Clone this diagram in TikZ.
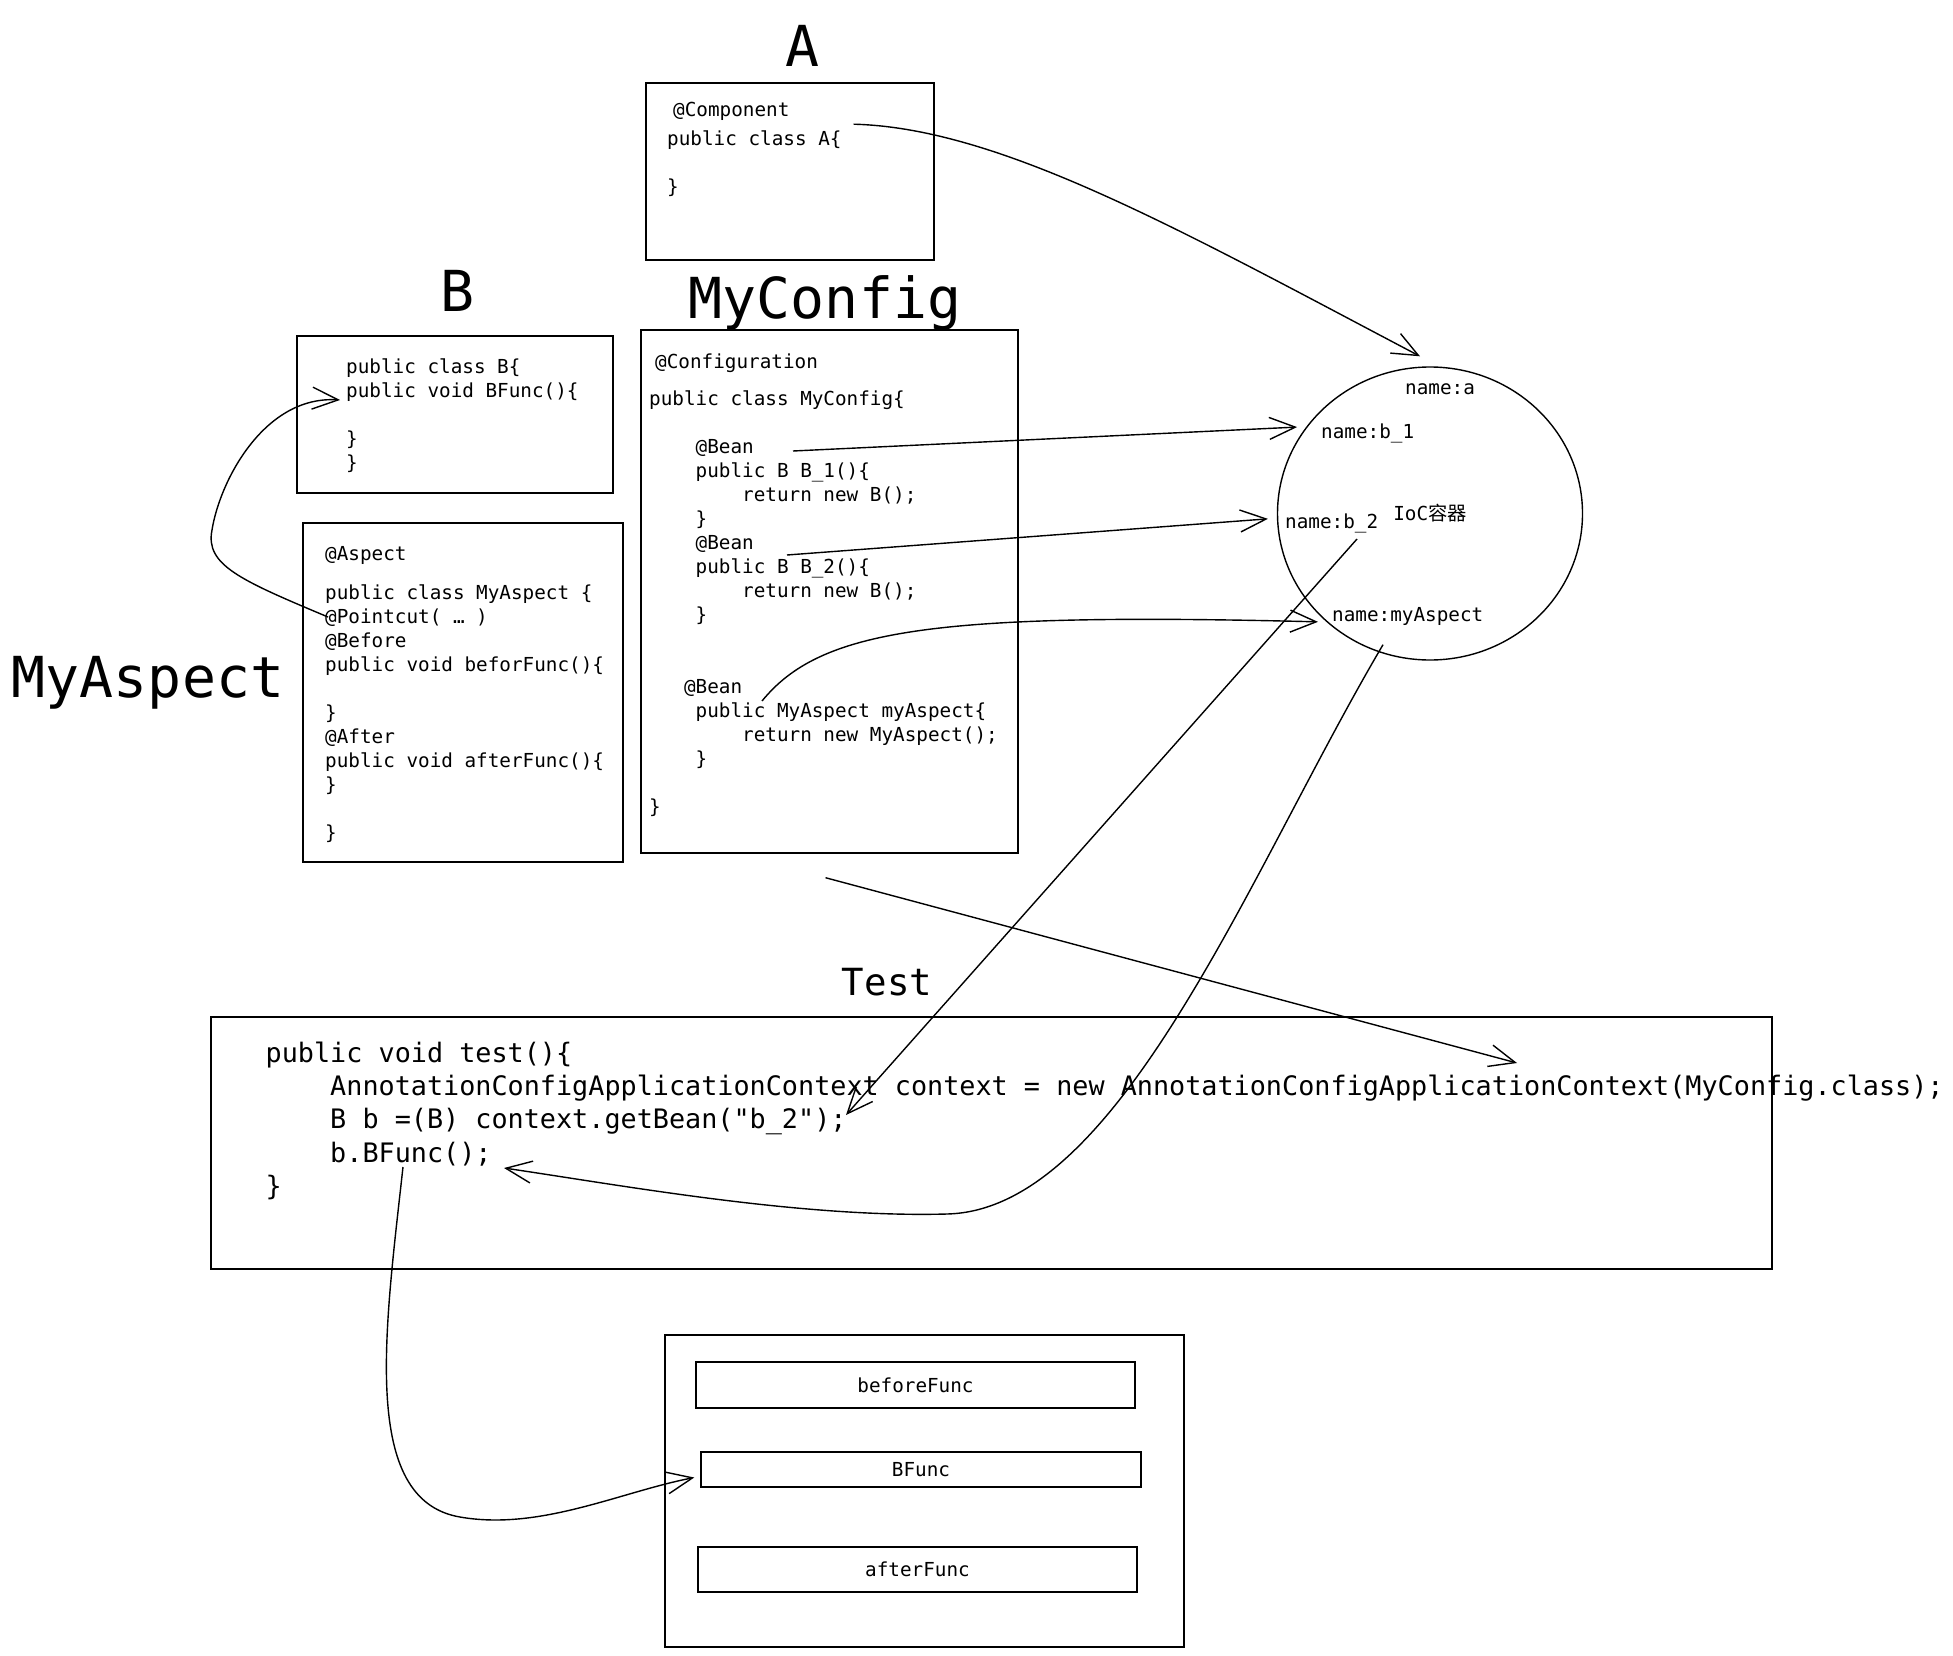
\documentclass[tikz,border=0pt]{standalone}
\usepackage{fontspec}
\setmonofont{DejaVu Sans Mono}
\newfontfamily\cjk{Noto Sans CJK SC}
\usetikzlibrary{arrows.meta,shapes.geometric}

\newcommand\indt{\phantom{0000}}
\newcommand\codesize{\ttfamily\fontsize{19.3}{24}\selectfont}
\newcommand\testsize{\ttfamily\fontsize{26.8}{33.3}\selectfont}
\newcommand\titlesize{\ttfamily\fontsize{56.5}{64}\selectfont}

\tikzset{
  box/.style={draw, rectangle, line width=1.4pt, inner sep=0pt},
  code/.style={font=\codesize, align=left, anchor=north west, inner sep=0pt},
  codeline/.style={font=\codesize, anchor=base west, inner sep=0pt},
  heading/.style={font=\titlesize, anchor=base, inner sep=0pt},
  arr/.style={line width=1.4pt, -{Straight Barb[length=26pt,width=22pt]}}
}

\begin{document}
\begin{tikzpicture}[x=1pt,y=-1pt]
\useasboundingbox (0,0) rectangle (1953,1656);

% titles
\node[heading] (tA) at (802,67) {A};
\node[heading] (tB) at (458,311) {B};
\node[heading] (tCfg) at (825,318) {MyConfig};
\node[heading] (tAsp) at (148,697) {MyAspect};
\node[heading, font=\ttfamily\fontsize{37.4}{44}\selectfont] (tTest) at (887,995) {Test};

% class A
\node[box, minimum width=288pt, minimum height=177pt] (aBox) at (790,171.5) {};
\node[codeline] (aAnn) at (673,117) {@Component};
\node[code] (aCls) at (667,128.2) {\strut public class A\{\\[24pt]\}};

% class B
\node[box, minimum width=316pt, minimum height=157pt] (bBox) at (455,414.5) {};
\node[code] (bCode) at (346,356.2) {\strut public class B\{\\
public void BFunc()\{\\[24pt]
\}\\
\}};

% aspect
\node[box, minimum width=320pt, minimum height=339pt] (aspBox) at (463,692.5) {};
\node[codeline] (aspAnn) at (325,560) {@Aspect};
\node[code] (aspCode) at (325,582.2) {\strut public class MyAspect \{\\
@Pointcut( … )\\
@Before\\
public void beforFunc()\{\\[24pt]
\}\\
@After\\
public void afterFunc()\{\\
\}\\[24pt]
\}};

% config
\node[box, minimum width=377pt, minimum height=523pt] (cfgBox) at (829.5,591.5) {};
\node[codeline] (cfgAnn) at (655,368.5) {@Configuration};
\node[code] (cfgCode) at (649,388.7) {\strut public class MyConfig\{\\[24pt]
\indt @Bean\\
\indt public B B\_1()\{\\
\indt\indt return new B();\\
\indt \}\\
\indt @Bean\\
\indt public B B\_2()\{\\
\indt\indt return new B();\\
\indt \}\\[48pt]
\phantom{000}@Bean\\
\indt public MyAspect myAspect\{\\
\indt\indt return new MyAspect();\\
\indt \}\\[24pt]
\}};

% container
\node[draw, ellipse, line width=1.4pt, minimum width=305pt, minimum height=293pt, inner sep=0pt, font=\codesize] (ioc) at (1430,513.5) {IoC{\cjk 容器}};
\node[codeline] (na) at (1405,394) {name:a};
\node[codeline] (nb1) at (1321,438) {name:b\_1};
\node[codeline] (nb2) at (1285,528) {name:b\_2};
\node[codeline] (nasp) at (1332,621) {name:myAspect};

% test
\node[box, minimum width=1561pt, minimum height=252pt] (testBox) at (991.5,1143) {};
\node[code, font=\testsize] (testCode) at (265.5,1038.7) {\strut public void test()\{\\
\indt AnnotationConfigApplicationContext context = new AnnotationConfigApplicationContext(MyConfig.class);\\
\indt B b =(B) context.getBean("b\_2");\\
\indt b.BFunc();\\
\}};

% advice chain
\node[box, minimum width=519pt, minimum height=312pt] (advBox) at (924.5,1491) {};
\node[box, minimum width=439pt, minimum height=46pt, font=\codesize] (beforeBox) at (915.5,1385) {beforeFunc};
\node[box, minimum width=440pt, minimum height=35pt, font=\codesize] (bfuncBox) at (921,1469.5) {BFunc};
\node[box, minimum width=439pt, minimum height=45pt, font=\codesize] (afterBox) at (917.5,1569.5) {afterFunc};

% free ends
\coordinate (b1from) at (793,451);
\coordinate (b2from) at (787,555);
\coordinate (maFrom) at (762,701);
\coordinate (pcFrom) at (328,617);
\coordinate (bfTo) at (340,400);
\coordinate (b2Out) at (1357,539);
\coordinate (getTo) at (846,1115);
\coordinate (ctxTo) at (1517,1063);
\coordinate (callTo) at (504,1168);
\coordinate (callFrom) at (403,1167);

\draw[arr] ([xshift=12pt,yshift=4pt]aCls.north east) .. controls (1000,128) and (1180,230) .. ([xshift=-10pt,yshift=10pt]ioc.north);
\draw[arr] (b1from) -- ([xshift=-6pt,yshift=4pt]ioc.147);
\draw[arr] (b2from) -- ([xshift=-9pt]ioc.182);
\draw[arr] (maFrom) .. controls (820,630) and (930,612) .. ([xshift=-4pt,yshift=-4pt]ioc.224);
\draw[arr] (b2Out) -- (getTo);
\draw[arr] ([xshift=-4pt,yshift=-24pt]cfgBox.south) -- (ctxTo);
\draw[arr] ([xshift=-47pt,yshift=16pt]ioc.south) .. controls (1250,870) and (1120,1210) .. (947,1214) .. controls (800,1218) and (620,1185) .. (callTo);
\draw[arr] (callFrom) .. controls (385,1330) and (360,1500) .. (460,1517) .. controls (540,1531) and (620,1492) .. ([xshift=-6pt,yshift=-8pt]bfuncBox.west);
\draw[arr] (pcFrom) .. controls (240,580) and (205,565) .. (212,530) .. controls (220,480) and (265,395) .. (bfTo);
\end{tikzpicture}
\end{document}
